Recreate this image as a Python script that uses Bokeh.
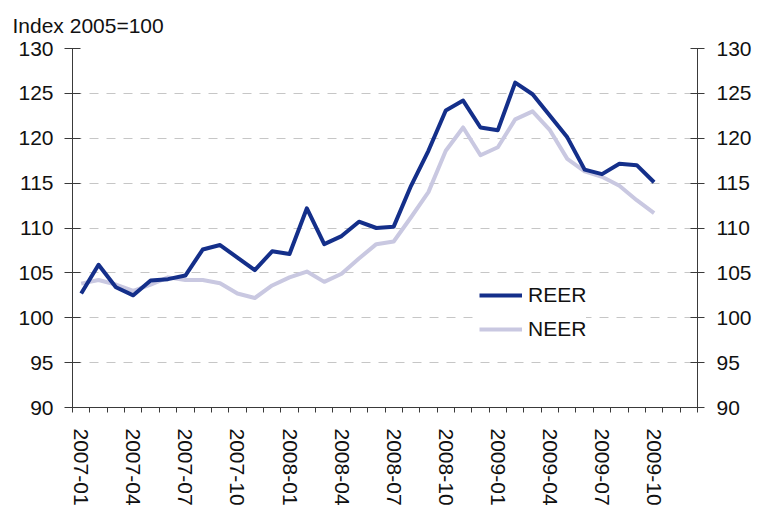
from bokeh.plotting import figure
from bokeh.models import Range1d, FixedTicker, LinearAxis, Legend, LegendItem, Title
from bokeh.embed import file_html
from bokeh.resources import INLINE

months = ["2007-01", "2007-02", "2007-03", "2007-04", "2007-05", "2007-06",
          "2007-07", "2007-08", "2007-09", "2007-10", "2007-11", "2007-12",
          "2008-01", "2008-02", "2008-03", "2008-04", "2008-05", "2008-06",
          "2008-07", "2008-08", "2008-09", "2008-10", "2008-11", "2008-12",
          "2009-01", "2009-02", "2009-03", "2009-04", "2009-05", "2009-06",
          "2009-07", "2009-08", "2009-09", "2009-10"]
reer = [102.7, 105.9, 103.4, 102.5, 104.15, 104.3, 104.7, 107.6, 108.1, 106.7,
        105.3, 107.4, 107.1, 112.2, 108.2, 109.1, 110.7, 110.0, 110.15, 114.7,
        118.6, 123.1, 124.2, 121.2, 120.9, 126.2, 124.9, 122.5, 120.1, 116.5,
        116.0, 117.15, 117.0, 115.1]
neer = [103.8, 104.2, 103.7, 103.0, 103.7, 104.5, 104.2, 104.2, 103.85, 102.7,
        102.2, 103.6, 104.5, 105.15, 104.0, 104.9, 106.6, 108.2, 108.5, 111.2,
        114.0, 118.6, 121.2, 118.1, 119.0, 122.1, 123.0, 120.9, 117.7, 116.3,
        115.7, 114.7, 113.1, 111.65]
y_ticks = [90, 95, 100, 105, 110, 115, 120, 125, 130]
n_slots = 36  # category slots on the axis (2007-01 .. 2009-12)
label_step = 3

FONT = "Liberation Sans"
FS = "21px"
REER_COLOR = "#142f8a"
NEER_COLOR = "#c9c8e1"
AXIS_COLOR = "#3a3a3a"

xs = list(range(len(months)))

p = figure(frame_width=625, frame_height=359, output_backend="svg",
           toolbar_location=None, x_range=Range1d(-0.5, n_slots - 0.5),
           y_range=Range1d(y_ticks[0], y_ticks[-1]),
           min_border_left=72, min_border_right=60, min_border_top=48,
           min_border_bottom=100)
p.outline_line_color = None
p.background_fill_color = "white"
p.border_fill_color = "white"

title = Title(text="Index 2005=100", align="left", offset=-60, standoff=23,
              text_line_height=1.0,
              text_font=FONT, text_font_size=FS, text_font_style="normal",
              text_color="#111111")
p.title = title

# x axis
major = list(range(0, len(months), label_step))
xt = FixedTicker(ticks=major, minor_ticks=[k - 0.5 for k in range(n_slots + 1)])
xa = p.xaxis[0]
xa.ticker = xt
xa.major_label_overrides = {i: months[i] for i in major}
xa.major_label_orientation = "vertical"
xa.major_tick_line_color = None
xa.major_tick_out = 5
xa.minor_tick_out = 5
xa.minor_tick_in = 0
xa.minor_tick_line_color = AXIS_COLOR
xa.axis_line_color = AXIS_COLOR
xa.major_label_standoff = 16
xa.major_label_text_font = FONT
xa.major_label_text_font_size = FS
xa.major_label_text_color = "#111111"

# y axes
yt = FixedTicker(ticks=y_ticks)
ya = p.yaxis[0]
ya.ticker = yt
ya.major_tick_in = 8
ya.major_tick_out = 8
ya.minor_tick_line_color = None
ya.axis_line_color = AXIS_COLOR
ya.major_tick_line_color = AXIS_COLOR
ya.major_label_standoff = 11
ya.major_label_text_font = FONT
ya.major_label_text_font_size = FS
ya.major_label_text_color = "#111111"

yr = LinearAxis(ticker=FixedTicker(ticks=y_ticks))
yr.major_tick_in = 7
yr.major_tick_out = 7
yr.minor_tick_line_color = None
yr.axis_line_color = AXIS_COLOR
yr.major_tick_line_color = AXIS_COLOR
yr.major_label_standoff = 12
yr.major_label_text_font = FONT
yr.major_label_text_font_size = FS
yr.major_label_text_color = "#111111"
p.add_layout(yr, "right")

p.xgrid.grid_line_color = None
p.ygrid.ticker = yt
p.ygrid.grid_line_color = "#c6c6c6"
p.ygrid.grid_line_dash = "9 8"
p.ygrid.grid_line_width = 1

r_neer = p.line(xs, neer, line_color=NEER_COLOR, line_width=4, line_join="round")
r_reer = p.line(xs, reer, line_color=REER_COLOR, line_width=4, line_join="round")

legend = Legend(items=[LegendItem(label="REER", renderers=[r_reer]),
                       LegendItem(label="NEER", renderers=[r_neer])],
                location=(407, 61), glyph_width=43, glyph_height=34,
                label_height=34, spacing=0, padding=3, margin=0,
                label_standoff=6, border_line_color=None,
                background_fill_color="white", background_fill_alpha=1.0,
                label_text_font=FONT, label_text_font_size=FS,
                label_text_color="#111111")
p.add_layout(legend, "center")

open("out.html", "w").write(file_html(p, INLINE))
